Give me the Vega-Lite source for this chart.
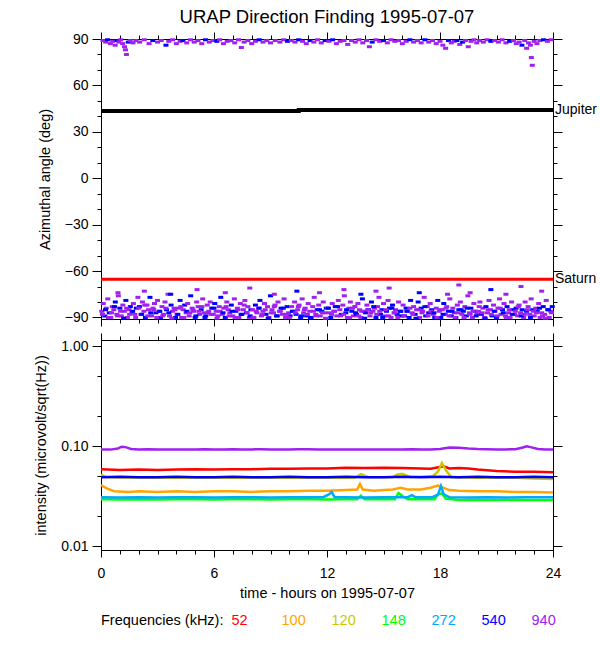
{
  "$schema": "https://vega.github.io/schema/vega-lite/v6.json",
  "padding": {"left": 33, "top": 7, "right": 0, "bottom": 0},
  "background": "white",
  "title": {"text": "URAP Direction Finding  1995-07-07", "anchor": "middle", "frame": "group", "font": "Liberation Sans", "fontSize": 18.5, "fontWeight": "normal", "color": "black", "offset": 5},
  "config": {
    "view": {"stroke": "black", "strokeWidth": 1},
    "axis": {"grid": false, "labelFlush": false, "domainColor": "black", "tickColor": "black", "labelColor": "black", "titleColor": "black",
      "labelFont": "Liberation Sans", "titleFont": "Liberation Sans", "labelFontSize": 14, "titleFontSize": 14.5, "titleFontWeight": "normal"}
  },
  "spacing": 5,
  "resolve": {"scale": {"color": "shared"}},
  "datasets": {
    "df": [
      {"t":0.10,"a":89,"f":940},{"t":0.25,"a":88,"f":940},{"t":0.35,"a":89.5,"f":540},{"t":0.50,"a":87,"f":940},{"t":0.62,"a":88.5,"f":940},
      {"t":0.75,"a":86,"f":940},{"t":0.85,"a":89,"f":540},{"t":0.95,"a":88,"f":940},{"t":1.05,"a":89.5,"f":940},{"t":1.15,"a":87,"f":940},
      {"t":1.25,"a":85,"f":940},{"t":1.30,"a":83,"f":940},{"t":1.35,"a":80,"f":940},{"t":1.45,"a":88,"f":540},{"t":1.55,"a":89,"f":940},
      {"t":1.70,"a":87.5,"f":940},{"t":1.85,"a":89,"f":940},{"t":2.05,"a":88,"f":940},{"t":2.30,"a":89.5,"f":940},{"t":2.55,"a":87,"f":940},
      {"t":2.75,"a":89,"f":540},{"t":3.00,"a":88,"f":940},{"t":3.20,"a":89,"f":940},{"t":3.45,"a":86,"f":540},{"t":3.60,"a":88.5,"f":940},
      {"t":3.80,"a":89.5,"f":940},{"t":4.00,"a":87,"f":940},{"t":4.20,"a":88.5,"f":940},{"t":4.35,"a":89,"f":540},{"t":4.55,"a":87.5,"f":940},
      {"t":4.75,"a":89.5,"f":940},{"t":4.95,"a":88,"f":940},{"t":5.15,"a":89,"f":940},{"t":5.35,"a":87,"f":940},{"t":5.55,"a":89.5,"f":540},
      {"t":5.75,"a":88,"f":940},{"t":5.95,"a":89,"f":940},{"t":6.15,"a":88.5,"f":540},{"t":6.30,"a":89.5,"f":940},{"t":6.50,"a":87,"f":940},
      {"t":6.70,"a":88.5,"f":940},{"t":6.90,"a":89,"f":940},{"t":7.10,"a":87.5,"f":940},{"t":7.30,"a":89.5,"f":940},{"t":7.45,"a":84.5,"f":940},
      {"t":7.60,"a":88,"f":940},{"t":7.80,"a":89,"f":940},{"t":8.00,"a":87,"f":940},{"t":8.20,"a":88.5,"f":940},{"t":8.40,"a":89.5,"f":540},
      {"t":8.60,"a":88,"f":940},{"t":8.80,"a":89,"f":940},{"t":9.00,"a":87.5,"f":940},{"t":9.25,"a":89,"f":940},{"t":9.50,"a":88,"f":940},
      {"t":9.70,"a":89.5,"f":940},{"t":9.90,"a":88.5,"f":540},{"t":10.10,"a":89,"f":940},{"t":10.30,"a":88,"f":940},{"t":10.50,"a":89.5,"f":540},
      {"t":10.70,"a":88.5,"f":940},{"t":10.90,"a":87,"f":940},{"t":11.10,"a":89,"f":540},{"t":11.30,"a":88,"f":940},{"t":11.50,"a":89.5,"f":940},
      {"t":11.70,"a":87.5,"f":940},{"t":11.90,"a":89,"f":540},{"t":12.10,"a":88.5,"f":940},{"t":12.30,"a":89.5,"f":540},{"t":12.50,"a":87,"f":940},
      {"t":12.70,"a":88.5,"f":940},{"t":12.90,"a":89,"f":940},{"t":13.10,"a":86.5,"f":940},{"t":13.30,"a":89,"f":940},{"t":13.50,"a":88,"f":940},
      {"t":13.70,"a":89.5,"f":940},{"t":13.90,"a":87.5,"f":940},{"t":14.10,"a":89,"f":940},{"t":14.25,"a":85,"f":940},{"t":14.40,"a":88,"f":540},
      {"t":14.60,"a":89.5,"f":940},{"t":14.80,"a":88.5,"f":940},{"t":15.00,"a":89,"f":540},{"t":15.20,"a":87.5,"f":940},{"t":15.40,"a":89.5,"f":940},
      {"t":15.60,"a":88.5,"f":940},{"t":15.80,"a":89,"f":940},{"t":16.00,"a":87,"f":940},{"t":16.20,"a":88.5,"f":940},{"t":16.40,"a":89.5,"f":540},
      {"t":16.60,"a":88,"f":940},{"t":16.80,"a":89,"f":940},{"t":17.00,"a":87.5,"f":940},{"t":17.20,"a":89.5,"f":540},{"t":17.40,"a":88,"f":940},
      {"t":17.60,"a":89,"f":940},{"t":17.80,"a":87,"f":940},{"t":18.00,"a":88.5,"f":940},{"t":18.15,"a":86,"f":940},{"t":18.30,"a":84,"f":940},
      {"t":18.45,"a":89,"f":540},{"t":18.60,"a":87.5,"f":940},{"t":18.75,"a":88.5,"f":940},{"t":18.90,"a":89,"f":540},{"t":19.05,"a":86.5,"f":940},
      {"t":19.20,"a":88,"f":540},{"t":19.35,"a":89,"f":940},{"t":19.50,"a":85,"f":940},{"t":19.65,"a":88.5,"f":940},{"t":19.80,"a":89.5,"f":940},
      {"t":19.95,"a":87.5,"f":940},{"t":20.10,"a":89,"f":940},{"t":20.30,"a":88,"f":940},{"t":20.50,"a":89.5,"f":940},{"t":20.70,"a":88.5,"f":540},
      {"t":20.90,"a":89,"f":940},{"t":21.10,"a":88,"f":940},{"t":21.30,"a":89.5,"f":940},{"t":21.50,"a":87.5,"f":940},{"t":21.70,"a":88.5,"f":540},
      {"t":21.90,"a":89,"f":940},{"t":22.05,"a":87,"f":940},{"t":22.20,"a":88,"f":940},{"t":22.35,"a":86,"f":540},{"t":22.50,"a":89,"f":940},
      {"t":22.60,"a":84,"f":940},{"t":22.70,"a":87.5,"f":940},{"t":22.80,"a":86,"f":940},{"t":22.85,"a":78,"f":940},{"t":22.90,"a":73,"f":940},
      {"t":23.00,"a":88.5,"f":940},{"t":23.15,"a":87,"f":940},{"t":23.30,"a":89,"f":940},{"t":23.50,"a":89.5,"f":540},{"t":23.70,"a":88.5,"f":940},
      {"t":23.90,"a":89.5,"f":940},

      {"t":0.04,"a":-86,"f":940},{"t":0.12,"a":-81,"f":940},{"t":0.20,"a":-89,"f":540},{"t":0.28,"a":-84,"f":940},{"t":0.36,"a":-78,"f":940},
      {"t":0.44,"a":-87,"f":540},{"t":0.52,"a":-90,"f":940},{"t":0.60,"a":-83,"f":940},{"t":0.68,"a":-85,"f":940},{"t":0.76,"a":-80,"f":540},
      {"t":0.84,"a":-88,"f":940},{"t":0.92,"a":-76,"f":940},{"t":1.00,"a":-84,"f":540},{"t":1.08,"a":-89,"f":940},{"t":1.16,"a":-82,"f":940},
      {"t":1.24,"a":-86,"f":940},{"t":1.32,"a":-79,"f":540},{"t":1.40,"a":-90,"f":940},{"t":1.48,"a":-85,"f":940},{"t":1.56,"a":-83,"f":540},
      {"t":1.64,"a":-87,"f":940},{"t":1.72,"a":-81,"f":940},{"t":1.80,"a":-88,"f":940},{"t":1.88,"a":-84,"f":540},{"t":1.96,"a":-77,"f":940},

      {"t":2.04,"a":-83,"f":540},{"t":2.12,"a":-88,"f":940},{"t":2.20,"a":-80,"f":940},{"t":2.28,"a":-86,"f":940},{"t":2.36,"a":-90,"f":540},
      {"t":2.44,"a":-82,"f":940},{"t":2.52,"a":-85,"f":940},{"t":2.60,"a":-77,"f":540},{"t":2.68,"a":-89,"f":940},{"t":2.76,"a":-84,"f":940},
      {"t":2.84,"a":-81,"f":940},{"t":2.92,"a":-87,"f":540},{"t":3.00,"a":-79,"f":940},{"t":3.08,"a":-86,"f":940},{"t":3.16,"a":-90,"f":540},
      {"t":3.24,"a":-83,"f":940},{"t":3.32,"a":-88,"f":940},{"t":3.40,"a":-80,"f":940},{"t":3.48,"a":-85,"f":540},{"t":3.56,"a":-75,"f":940},
      {"t":3.64,"a":-89,"f":940},{"t":3.72,"a":-82,"f":540},{"t":3.80,"a":-86,"f":940},{"t":3.88,"a":-84,"f":940},{"t":3.96,"a":-90,"f":540},

      {"t":4.04,"a":-88,"f":940},{"t":4.12,"a":-84,"f":940},{"t":4.20,"a":-79,"f":540},{"t":4.28,"a":-90,"f":940},{"t":4.36,"a":-85,"f":940},
      {"t":4.44,"a":-82,"f":540},{"t":4.52,"a":-87,"f":940},{"t":4.60,"a":-81,"f":940},{"t":4.68,"a":-89,"f":940},{"t":4.76,"a":-76,"f":540},
      {"t":4.84,"a":-84,"f":940},{"t":4.92,"a":-86,"f":940},{"t":5.00,"a":-90,"f":540},{"t":5.08,"a":-80,"f":940},{"t":5.16,"a":-83,"f":940},
      {"t":5.24,"a":-88,"f":940},{"t":5.32,"a":-85,"f":540},{"t":5.40,"a":-78,"f":940},{"t":5.48,"a":-87,"f":940},{"t":5.56,"a":-89,"f":540},
      {"t":5.64,"a":-82,"f":940},{"t":5.72,"a":-86,"f":940},{"t":5.80,"a":-80,"f":940},{"t":5.88,"a":-84,"f":540},{"t":5.96,"a":-88,"f":940},

      {"t":6.04,"a":-81,"f":540},{"t":6.12,"a":-86,"f":940},{"t":6.20,"a":-89,"f":940},{"t":6.28,"a":-83,"f":940},{"t":6.36,"a":-77,"f":540},
      {"t":6.44,"a":-88,"f":940},{"t":6.52,"a":-84,"f":940},{"t":6.60,"a":-90,"f":540},{"t":6.68,"a":-80,"f":940},{"t":6.76,"a":-85,"f":940},
      {"t":6.84,"a":-87,"f":940},{"t":6.92,"a":-82,"f":540},{"t":7.00,"a":-89,"f":940},{"t":7.08,"a":-78,"f":940},{"t":7.16,"a":-86,"f":540},
      {"t":7.24,"a":-84,"f":940},{"t":7.32,"a":-90,"f":940},{"t":7.40,"a":-81,"f":940},{"t":7.48,"a":-88,"f":540},{"t":7.56,"a":-85,"f":940},
      {"t":7.64,"a":-79,"f":940},{"t":7.72,"a":-87,"f":540},{"t":7.80,"a":-83,"f":940},{"t":7.88,"a":-90,"f":940},{"t":7.96,"a":-85,"f":540},

      {"t":8.04,"a":-85,"f":940},{"t":8.12,"a":-90,"f":940},{"t":8.20,"a":-82,"f":540},{"t":8.28,"a":-87,"f":940},{"t":8.36,"a":-84,"f":940},
      {"t":8.44,"a":-79,"f":540},{"t":8.52,"a":-89,"f":940},{"t":8.60,"a":-86,"f":940},{"t":8.68,"a":-81,"f":940},{"t":8.76,"a":-88,"f":540},
      {"t":8.84,"a":-83,"f":940},{"t":8.92,"a":-90,"f":940},{"t":9.00,"a":-76,"f":540},{"t":9.08,"a":-85,"f":940},{"t":9.16,"a":-87,"f":940},
      {"t":9.24,"a":-82,"f":940},{"t":9.32,"a":-89,"f":540},{"t":9.40,"a":-80,"f":940},{"t":9.48,"a":-86,"f":940},{"t":9.56,"a":-84,"f":540},
      {"t":9.64,"a":-88,"f":940},{"t":9.72,"a":-78,"f":940},{"t":9.80,"a":-90,"f":940},{"t":9.88,"a":-83,"f":540},{"t":9.96,"a":-87,"f":940},

      {"t":10.04,"a":-89,"f":540},{"t":10.12,"a":-83,"f":940},{"t":10.20,"a":-86,"f":940},{"t":10.28,"a":-80,"f":940},{"t":10.36,"a":-88,"f":540},
      {"t":10.44,"a":-85,"f":940},{"t":10.52,"a":-82,"f":940},{"t":10.60,"a":-90,"f":540},{"t":10.68,"a":-78,"f":940},{"t":10.76,"a":-87,"f":940},
      {"t":10.84,"a":-84,"f":940},{"t":10.92,"a":-89,"f":540},{"t":11.00,"a":-81,"f":940},{"t":11.08,"a":-86,"f":940},{"t":11.16,"a":-90,"f":540},
      {"t":11.24,"a":-83,"f":940},{"t":11.32,"a":-77,"f":940},{"t":11.40,"a":-88,"f":940},{"t":11.48,"a":-85,"f":540},{"t":11.56,"a":-82,"f":940},
      {"t":11.64,"a":-89,"f":940},{"t":11.72,"a":-86,"f":540},{"t":11.80,"a":-80,"f":940},{"t":11.88,"a":-87,"f":940},{"t":11.96,"a":-84,"f":540},

      {"t":12.04,"a":-84,"f":940},{"t":12.12,"a":-87,"f":940},{"t":12.20,"a":-90,"f":540},{"t":12.28,"a":-81,"f":940},{"t":12.36,"a":-86,"f":940},
      {"t":12.44,"a":-83,"f":540},{"t":12.52,"a":-89,"f":940},{"t":12.60,"a":-79,"f":940},{"t":12.68,"a":-85,"f":940},{"t":12.76,"a":-88,"f":540},
      {"t":12.84,"a":-82,"f":940},{"t":12.92,"a":-76,"f":940},{"t":13.00,"a":-87,"f":540},{"t":13.08,"a":-90,"f":940},{"t":13.16,"a":-84,"f":940},
      {"t":13.24,"a":-80,"f":940},{"t":13.32,"a":-86,"f":540},{"t":13.40,"a":-89,"f":940},{"t":13.48,"a":-83,"f":940},{"t":13.56,"a":-88,"f":540},
      {"t":13.64,"a":-81,"f":940},{"t":13.72,"a":-85,"f":940},{"t":13.80,"a":-90,"f":940},{"t":13.88,"a":-78,"f":540},{"t":13.96,"a":-86,"f":940},

      {"t":14.04,"a":-87,"f":540},{"t":14.12,"a":-82,"f":940},{"t":14.20,"a":-85,"f":540},{"t":14.28,"a":-89,"f":940},{"t":14.36,"a":-80,"f":540},
      {"t":14.44,"a":-86,"f":940},{"t":14.52,"a":-84,"f":940},{"t":14.60,"a":-90,"f":540},{"t":14.68,"a":-83,"f":940},{"t":14.76,"a":-77,"f":940},
      {"t":14.84,"a":-88,"f":540},{"t":14.92,"a":-85,"f":540},{"t":15.00,"a":-81,"f":940},{"t":15.08,"a":-89,"f":940},{"t":15.16,"a":-86,"f":540},
      {"t":15.24,"a":-79,"f":940},{"t":15.32,"a":-84,"f":540},{"t":15.40,"a":-90,"f":940},{"t":15.48,"a":-82,"f":540},{"t":15.56,"a":-87,"f":940},
      {"t":15.64,"a":-85,"f":940},{"t":15.72,"a":-88,"f":540},{"t":15.80,"a":-80,"f":940},{"t":15.88,"a":-86,"f":540},{"t":15.96,"a":-89,"f":540},

      {"t":16.04,"a":-82,"f":940},{"t":16.12,"a":-89,"f":540},{"t":16.20,"a":-84,"f":540},{"t":16.28,"a":-86,"f":940},{"t":16.36,"a":-90,"f":540},
      {"t":16.44,"a":-79,"f":540},{"t":16.52,"a":-87,"f":940},{"t":16.60,"a":-83,"f":940},{"t":16.68,"a":-88,"f":540},{"t":16.76,"a":-85,"f":940},
      {"t":16.84,"a":-80,"f":540},{"t":16.92,"a":-90,"f":940},{"t":17.00,"a":-84,"f":540},{"t":17.08,"a":-86,"f":940},{"t":17.16,"a":-77,"f":940},
      {"t":17.24,"a":-89,"f":540},{"t":17.32,"a":-83,"f":940},{"t":17.40,"a":-87,"f":540},{"t":17.48,"a":-81,"f":940},{"t":17.56,"a":-85,"f":540},
      {"t":17.64,"a":-88,"f":940},{"t":17.72,"a":-90,"f":540},{"t":17.80,"a":-84,"f":940},{"t":17.88,"a":-79,"f":540},{"t":17.96,"a":-86,"f":940},

      {"t":18.04,"a":-90,"f":540},{"t":18.12,"a":-85,"f":940},{"t":18.20,"a":-81,"f":540},{"t":18.28,"a":-88,"f":940},{"t":18.36,"a":-83,"f":940},
      {"t":18.44,"a":-86,"f":540},{"t":18.52,"a":-78,"f":940},{"t":18.60,"a":-89,"f":540},{"t":18.68,"a":-84,"f":940},{"t":18.76,"a":-87,"f":940},
      {"t":18.84,"a":-90,"f":540},{"t":18.92,"a":-82,"f":940},{"t":19.00,"a":-85,"f":540},{"t":19.08,"a":-80,"f":940},{"t":19.16,"a":-88,"f":940},
      {"t":19.24,"a":-86,"f":540},{"t":19.32,"a":-83,"f":940},{"t":19.40,"a":-89,"f":540},{"t":19.48,"a":-76,"f":940},{"t":19.56,"a":-87,"f":940},
      {"t":19.64,"a":-84,"f":540},{"t":19.72,"a":-90,"f":940},{"t":19.80,"a":-81,"f":940},{"t":19.88,"a":-86,"f":540},{"t":19.96,"a":-88,"f":940},

      {"t":20.04,"a":-86,"f":940},{"t":20.12,"a":-80,"f":940},{"t":20.20,"a":-88,"f":540},{"t":20.28,"a":-84,"f":940},{"t":20.36,"a":-90,"f":940},
      {"t":20.44,"a":-83,"f":540},{"t":20.52,"a":-87,"f":940},{"t":20.60,"a":-79,"f":940},{"t":20.68,"a":-85,"f":940},{"t":20.76,"a":-89,"f":540},
      {"t":20.84,"a":-82,"f":940},{"t":20.92,"a":-86,"f":940},{"t":21.00,"a":-90,"f":540},{"t":21.08,"a":-84,"f":940},{"t":21.16,"a":-78,"f":940},
      {"t":21.24,"a":-88,"f":940},{"t":21.32,"a":-85,"f":540},{"t":21.40,"a":-81,"f":940},{"t":21.48,"a":-89,"f":940},{"t":21.56,"a":-83,"f":540},
      {"t":21.64,"a":-87,"f":940},{"t":21.72,"a":-90,"f":940},{"t":21.80,"a":-80,"f":940},{"t":21.88,"a":-85,"f":540},{"t":21.96,"a":-88,"f":940},

      {"t":22.04,"a":-84,"f":540},{"t":22.12,"a":-89,"f":940},{"t":22.20,"a":-82,"f":940},{"t":22.28,"a":-87,"f":940},{"t":22.36,"a":-85,"f":540},
      {"t":22.44,"a":-90,"f":940},{"t":22.52,"a":-80,"f":940},{"t":22.60,"a":-86,"f":540},{"t":22.68,"a":-83,"f":940},{"t":22.76,"a":-88,"f":940},
      {"t":22.84,"a":-78,"f":940},{"t":22.92,"a":-85,"f":540},{"t":23.00,"a":-89,"f":940},{"t":23.08,"a":-84,"f":940},{"t":23.16,"a":-86,"f":540},
      {"t":23.24,"a":-81,"f":940},{"t":23.32,"a":-90,"f":940},{"t":23.40,"a":-87,"f":940},{"t":23.48,"a":-83,"f":540},{"t":23.56,"a":-88,"f":940},
      {"t":23.64,"a":-79,"f":940},{"t":23.72,"a":-85,"f":540},{"t":23.80,"a":-90,"f":940},{"t":23.88,"a":-86,"f":940},{"t":23.96,"a":-83,"f":540},

      {"t":0.9,"a":-74,"f":940},{"t":2.3,"a":-73,"f":940},{"t":3.7,"a":-75,"f":540},{"t":5.1,"a":-72,"f":940},{"t":6.6,"a":-74,"f":940},
      {"t":7.9,"a":-71,"f":940},{"t":9.2,"a":-75,"f":940},{"t":10.4,"a":-73,"f":540},{"t":11.6,"a":-74,"f":940},{"t":12.9,"a":-72,"f":940},
      {"t":13.8,"a":-75,"f":540},{"t":14.6,"a":-73,"f":940},{"t":15.3,"a":-71,"f":940},{"t":16.9,"a":-74,"f":540},{"t":18.4,"a":-75,"f":940},
      {"t":19.0,"a":-69,"f":940},{"t":19.6,"a":-74,"f":940},{"t":20.7,"a":-72,"f":540},{"t":21.5,"a":-75,"f":940},{"t":22.3,"a":-70,"f":940},
      {"t":23.4,"a":-73,"f":940},

      {"t":0.08,"a":-88,"f":940},{"t":0.24,"a":-85,"f":540},{"t":0.40,"a":-90,"f":940},{"t":0.56,"a":-87,"f":940},{"t":0.72,"a":-83,"f":540},
      {"t":0.88,"a":-89,"f":940},{"t":1.04,"a":-86,"f":940},{"t":1.20,"a":-90.5,"f":540},{"t":1.36,"a":-84,"f":940},{"t":1.52,"a":-88,"f":940},
      {"t":1.68,"a":-86,"f":540},{"t":1.84,"a":-90,"f":940},{"t":2.00,"a":-84,"f":940},{"t":2.16,"a":-88,"f":540},{"t":2.32,"a":-82,"f":940},
      {"t":2.48,"a":-89,"f":940},{"t":2.64,"a":-87,"f":540},{"t":2.80,"a":-85,"f":940},{"t":2.96,"a":-90,"f":940},{"t":3.12,"a":-86,"f":540},
      {"t":3.28,"a":-89,"f":940},{"t":3.44,"a":-84,"f":940},{"t":3.60,"a":-87,"f":540},{"t":3.76,"a":-90.5,"f":940},{"t":3.92,"a":-85,"f":940},
      {"t":4.08,"a":-88,"f":540},{"t":4.24,"a":-83,"f":940},{"t":4.40,"a":-90,"f":940},{"t":4.56,"a":-86,"f":540},{"t":4.72,"a":-87,"f":940},
      {"t":4.88,"a":-85,"f":940},{"t":5.04,"a":-89,"f":540},{"t":5.20,"a":-86,"f":940},{"t":5.36,"a":-83,"f":940},{"t":5.52,"a":-90,"f":540},
      {"t":5.68,"a":-87,"f":940},{"t":5.84,"a":-88,"f":940},{"t":6.00,"a":-84,"f":540},{"t":6.16,"a":-90.5,"f":940},{"t":6.32,"a":-86,"f":940},
      {"t":6.48,"a":-87,"f":540},{"t":6.64,"a":-83,"f":940},{"t":6.80,"a":-89,"f":940},{"t":6.96,"a":-86,"f":540},{"t":7.12,"a":-90,"f":940},
      {"t":7.28,"a":-85,"f":940},{"t":7.44,"a":-88,"f":540},{"t":7.60,"a":-82,"f":940},{"t":7.76,"a":-87,"f":940},{"t":7.92,"a":-89,"f":540},
      {"t":8.08,"a":-90,"f":940},{"t":8.24,"a":-86,"f":940},{"t":8.40,"a":-84,"f":540},{"t":8.56,"a":-88,"f":940},{"t":8.72,"a":-85,"f":940},
      {"t":8.88,"a":-90.5,"f":540},{"t":9.04,"a":-87,"f":940},{"t":9.20,"a":-83,"f":940},{"t":9.36,"a":-89,"f":540},{"t":9.52,"a":-86,"f":940},
      {"t":9.68,"a":-84,"f":540},{"t":9.84,"a":-88,"f":940},{"t":10.00,"a":-90,"f":940},{"t":10.16,"a":-86,"f":540},{"t":10.32,"a":-87,"f":940},
      {"t":10.48,"a":-83,"f":940},{"t":10.64,"a":-89,"f":540},{"t":10.80,"a":-85,"f":940},{"t":10.96,"a":-88,"f":940},{"t":11.12,"a":-90,"f":540},
      {"t":11.28,"a":-86,"f":940},{"t":11.44,"a":-89,"f":940},{"t":11.60,"a":-85,"f":540},{"t":11.76,"a":-87,"f":940},{"t":11.92,"a":-90.5,"f":940},
      {"t":12.08,"a":-84,"f":540},{"t":12.24,"a":-88,"f":940},{"t":12.40,"a":-86,"f":940},{"t":12.56,"a":-83,"f":540},{"t":12.72,"a":-89,"f":940},
      {"t":12.88,"a":-88,"f":940},{"t":13.04,"a":-85,"f":540},{"t":13.20,"a":-90,"f":940},{"t":13.36,"a":-84,"f":940},{"t":13.52,"a":-87,"f":540},
      {"t":13.68,"a":-89,"f":940},{"t":13.84,"a":-86,"f":940},{"t":14.00,"a":-90.5,"f":540},{"t":14.16,"a":-85,"f":940},{"t":14.32,"a":-87,"f":940},
      {"t":14.48,"a":-83,"f":540},{"t":14.64,"a":-88,"f":940},{"t":14.80,"a":-86,"f":940},{"t":14.96,"a":-90,"f":540},{"t":15.12,"a":-85,"f":940},
      {"t":15.28,"a":-89,"f":940},{"t":15.44,"a":-84,"f":540},{"t":15.60,"a":-87,"f":940},{"t":15.76,"a":-90,"f":940},{"t":15.92,"a":-86,"f":540},
      {"t":16.08,"a":-89,"f":940},{"t":16.24,"a":-86,"f":540},{"t":16.40,"a":-84,"f":940},{"t":16.56,"a":-88,"f":940},{"t":16.72,"a":-90.5,"f":540},
      {"t":16.88,"a":-85,"f":940},{"t":17.04,"a":-87,"f":940},{"t":17.20,"a":-83,"f":540},{"t":17.36,"a":-89,"f":940},{"t":17.52,"a":-86,"f":940},
      {"t":17.68,"a":-87,"f":540},{"t":17.84,"a":-90,"f":940},{"t":18.00,"a":-85,"f":940},{"t":18.16,"a":-88,"f":540},{"t":18.32,"a":-84,"f":940},
      {"t":18.48,"a":-89,"f":940},{"t":18.64,"a":-86,"f":540},{"t":18.80,"a":-90,"f":940},{"t":18.96,"a":-87,"f":940},{"t":19.12,"a":-85,"f":540},
      {"t":19.28,"a":-90,"f":940},{"t":19.44,"a":-84,"f":540},{"t":19.60,"a":-88,"f":940},{"t":19.76,"a":-86,"f":940},{"t":19.92,"a":-89,"f":540},
      {"t":20.08,"a":-83,"f":940},{"t":20.24,"a":-87,"f":940},{"t":20.40,"a":-90.5,"f":540},{"t":20.56,"a":-85,"f":940},{"t":20.72,"a":-88,"f":940},
      {"t":20.88,"a":-86,"f":540},{"t":21.04,"a":-89,"f":940},{"t":21.20,"a":-84,"f":940},{"t":21.36,"a":-87,"f":540},{"t":21.52,"a":-90,"f":940},
      {"t":21.68,"a":-85,"f":940},{"t":21.84,"a":-88,"f":540},{"t":22.00,"a":-86,"f":940},{"t":22.16,"a":-83,"f":940},{"t":22.32,"a":-89,"f":540},
      {"t":22.48,"a":-88,"f":940},{"t":22.64,"a":-85,"f":940},{"t":22.80,"a":-90,"f":540},{"t":22.96,"a":-86,"f":940},{"t":23.12,"a":-87,"f":940},
      {"t":23.28,"a":-84,"f":540},{"t":23.44,"a":-89,"f":940},{"t":23.60,"a":-90.5,"f":940},{"t":23.76,"a":-85,"f":540},{"t":23.92,"a":-87,"f":940}
    ],
    "bodies": [
      {"body":"Jupiter","t":0,"a":43.5},{"body":"Jupiter","t":10.5,"a":43.5},{"body":"Jupiter","t":10.5,"a":44.1},{"body":"Jupiter","t":24,"a":44.1},
      {"body":"Saturn","t":0,"a":-65.3},{"body":"Saturn","t":24,"a":-65.3}
    ],
    "intens": [
      {"t":0,"v":0.093,"f":940},{"t":0.5,"v":0.0925,"f":940},{"t":0.9,"v":0.095,"f":940},{"t":1.1,"v":0.099,"f":940},{"t":1.3,"v":0.098,"f":940},
      {"t":1.6,"v":0.094,"f":940},{"t":2,"v":0.093,"f":940},{"t":2.5,"v":0.0935,"f":940},{"t":3,"v":0.0925,"f":940},{"t":3.5,"v":0.093,"f":940},
      {"t":4,"v":0.093,"f":940},{"t":4.5,"v":0.0925,"f":940},{"t":5,"v":0.0925,"f":940},{"t":5.5,"v":0.0935,"f":940},{"t":6,"v":0.093,"f":940},
      {"t":6.5,"v":0.0925,"f":940},{"t":7,"v":0.0935,"f":940},{"t":7.5,"v":0.093,"f":940},{"t":8,"v":0.093,"f":940},{"t":8.5,"v":0.0935,"f":940},
      {"t":9,"v":0.0925,"f":940},{"t":9.5,"v":0.093,"f":940},{"t":10,"v":0.093,"f":940},{"t":10.5,"v":0.0935,"f":940},{"t":11,"v":0.0935,"f":940},
      {"t":11.5,"v":0.093,"f":940},{"t":12,"v":0.093,"f":940},{"t":12.5,"v":0.0925,"f":940},{"t":13,"v":0.0925,"f":940},{"t":13.5,"v":0.093,"f":940},
      {"t":14,"v":0.093,"f":940},{"t":14.5,"v":0.0925,"f":940},{"t":15,"v":0.0925,"f":940},{"t":15.5,"v":0.093,"f":940},{"t":16,"v":0.093,"f":940},
      {"t":16.5,"v":0.0935,"f":940},{"t":17,"v":0.093,"f":940},{"t":17.5,"v":0.093,"f":940},{"t":18,"v":0.094,"f":940},{"t":18.5,"v":0.097,"f":940},
      {"t":19,"v":0.0965,"f":940},{"t":19.5,"v":0.095,"f":940},{"t":20,"v":0.094,"f":940},{"t":20.5,"v":0.0935,"f":940},{"t":21,"v":0.093,"f":940},
      {"t":21.5,"v":0.093,"f":940},{"t":22,"v":0.0935,"f":940},{"t":22.4,"v":0.097,"f":940},{"t":22.6,"v":0.1,"f":940},{"t":22.8,"v":0.098,"f":940},
      {"t":23.2,"v":0.094,"f":940},{"t":23.6,"v":0.093,"f":940},{"t":24,"v":0.093,"f":940},

      {"t":0,"v":0.059,"f":52},{"t":1,"v":0.058,"f":52},{"t":2,"v":0.0585,"f":52},{"t":3,"v":0.058,"f":52},{"t":4,"v":0.0585,"f":52},
      {"t":5,"v":0.059,"f":52},{"t":6,"v":0.0585,"f":52},{"t":7,"v":0.059,"f":52},{"t":8,"v":0.059,"f":52},{"t":9,"v":0.0595,"f":52},
      {"t":10,"v":0.0595,"f":52},{"t":11,"v":0.06,"f":52},{"t":12,"v":0.06,"f":52},{"t":13,"v":0.061,"f":52},{"t":14,"v":0.0605,"f":52},
      {"t":15,"v":0.061,"f":52},{"t":16,"v":0.0605,"f":52},{"t":17,"v":0.06,"f":52},{"t":17.5,"v":0.0595,"f":52},{"t":18,"v":0.062,"f":52},
      {"t":18.2,"v":0.063,"f":52},{"t":18.5,"v":0.06,"f":52},{"t":19,"v":0.0605,"f":52},{"t":19.5,"v":0.06,"f":52},{"t":20,"v":0.0585,"f":52},
      {"t":21,"v":0.0565,"f":52},{"t":22,"v":0.0555,"f":52},{"t":23,"v":0.0555,"f":52},{"t":24,"v":0.055,"f":52},

      {"t":0,"v":0.052,"f":120},{"t":0.3,"v":0.049,"f":120},{"t":2,"v":0.0485,"f":120},{"t":5,"v":0.0485,"f":120},{"t":8,"v":0.0485,"f":120},
      {"t":11,"v":0.0485,"f":120},{"t":13.5,"v":0.0485,"f":120},{"t":13.8,"v":0.0525,"f":120},{"t":14.2,"v":0.049,"f":120},{"t":15.5,"v":0.049,"f":120},
      {"t":15.7,"v":0.052,"f":120},{"t":16,"v":0.053,"f":120},{"t":16.4,"v":0.049,"f":120},{"t":17.6,"v":0.05,"f":120},{"t":17.9,"v":0.056,"f":120},
      {"t":18.1,"v":0.068,"f":120},{"t":18.3,"v":0.058,"f":120},{"t":18.6,"v":0.049,"f":120},{"t":20,"v":0.0485,"f":120},{"t":22,"v":0.0485,"f":120},
      {"t":23,"v":0.0475,"f":120},{"t":24,"v":0.047,"f":120},

      {"t":0,"v":0.049,"f":540},{"t":1,"v":0.0495,"f":540},{"t":2,"v":0.049,"f":540},{"t":3,"v":0.049,"f":540},{"t":4,"v":0.0495,"f":540},
      {"t":5,"v":0.049,"f":540},{"t":6,"v":0.049,"f":540},{"t":7,"v":0.0495,"f":540},{"t":8,"v":0.049,"f":540},{"t":9,"v":0.049,"f":540},
      {"t":10,"v":0.0495,"f":540},{"t":11,"v":0.049,"f":540},{"t":12,"v":0.049,"f":540},{"t":13,"v":0.0495,"f":540},{"t":14,"v":0.049,"f":540},
      {"t":15,"v":0.049,"f":540},{"t":16,"v":0.0495,"f":540},{"t":17,"v":0.049,"f":540},{"t":18,"v":0.0495,"f":540},{"t":19,"v":0.049,"f":540},
      {"t":20,"v":0.0495,"f":540},{"t":21,"v":0.049,"f":540},{"t":22,"v":0.049,"f":540},{"t":23,"v":0.0495,"f":540},{"t":24,"v":0.049,"f":540},

      {"t":0,"v":0.041,"f":100},{"t":0.3,"v":0.038,"f":100},{"t":0.7,"v":0.0355,"f":100},{"t":1.5,"v":0.035,"f":100},{"t":2,"v":0.0355,"f":100},
      {"t":3,"v":0.035,"f":100},{"t":4,"v":0.0355,"f":100},{"t":5,"v":0.035,"f":100},{"t":6,"v":0.0355,"f":100},{"t":7,"v":0.0355,"f":100},
      {"t":8,"v":0.035,"f":100},{"t":9,"v":0.0355,"f":100},{"t":10,"v":0.0355,"f":100},{"t":11,"v":0.036,"f":100},{"t":12,"v":0.036,"f":100},
      {"t":13,"v":0.0365,"f":100},{"t":13.6,"v":0.037,"f":100},{"t":13.75,"v":0.042,"f":100},{"t":13.9,"v":0.037,"f":100},{"t":14.5,"v":0.036,"f":100},
      {"t":15,"v":0.0365,"f":100},{"t":15.5,"v":0.037,"f":100},{"t":15.9,"v":0.0385,"f":100},{"t":16.3,"v":0.037,"f":100},{"t":17,"v":0.037,"f":100},
      {"t":17.5,"v":0.0385,"f":100},{"t":17.9,"v":0.0405,"f":100},{"t":18.1,"v":0.039,"f":100},{"t":18.5,"v":0.0365,"f":100},{"t":19,"v":0.036,"f":100},
      {"t":20,"v":0.0355,"f":100},{"t":21,"v":0.0355,"f":100},{"t":22,"v":0.035,"f":100},{"t":23,"v":0.035,"f":100},{"t":24,"v":0.0345,"f":100},

      {"t":0,"v":0.0295,"f":148},{"t":1,"v":0.0293,"f":148},{"t":2,"v":0.0295,"f":148},{"t":3,"v":0.0293,"f":148},{"t":4,"v":0.0295,"f":148},
      {"t":5,"v":0.0295,"f":148},{"t":6,"v":0.0293,"f":148},{"t":7,"v":0.0295,"f":148},{"t":8,"v":0.0295,"f":148},{"t":9,"v":0.0293,"f":148},
      {"t":10,"v":0.0295,"f":148},{"t":11,"v":0.0295,"f":148},{"t":12,"v":0.0293,"f":148},{"t":13,"v":0.0295,"f":148},{"t":13.6,"v":0.0295,"f":148},
      {"t":13.8,"v":0.032,"f":148},{"t":14,"v":0.0295,"f":148},{"t":15.6,"v":0.0295,"f":148},{"t":15.8,"v":0.034,"f":148},{"t":16.1,"v":0.031,"f":148},
      {"t":16.3,"v":0.0295,"f":148},{"t":17.7,"v":0.0295,"f":148},{"t":17.9,"v":0.033,"f":148},{"t":18.1,"v":0.034,"f":148},{"t":18.3,"v":0.03,"f":148},
      {"t":19,"v":0.029,"f":148},{"t":20,"v":0.0292,"f":148},{"t":21,"v":0.029,"f":148},{"t":22,"v":0.0292,"f":148},{"t":23,"v":0.029,"f":148},
      {"t":24,"v":0.029,"f":148},

      {"t":0,"v":0.031,"f":272},{"t":1,"v":0.0308,"f":272},{"t":2,"v":0.031,"f":272},{"t":3,"v":0.0308,"f":272},{"t":4,"v":0.031,"f":272},
      {"t":5,"v":0.031,"f":272},{"t":6,"v":0.0308,"f":272},{"t":7,"v":0.031,"f":272},{"t":8,"v":0.031,"f":272},{"t":9,"v":0.0308,"f":272},
      {"t":10,"v":0.031,"f":272},{"t":11,"v":0.031,"f":272},{"t":11.8,"v":0.031,"f":272},{"t":12.1,"v":0.033,"f":272},{"t":12.25,"v":0.035,"f":272},
      {"t":12.4,"v":0.031,"f":272},{"t":13,"v":0.031,"f":272},{"t":14,"v":0.0308,"f":272},{"t":15,"v":0.031,"f":272},{"t":16.3,"v":0.031,"f":272},
      {"t":16.5,"v":0.0325,"f":272},{"t":16.7,"v":0.031,"f":272},{"t":17.6,"v":0.031,"f":272},{"t":17.9,"v":0.033,"f":272},{"t":18.05,"v":0.04,"f":272},
      {"t":18.2,"v":0.033,"f":272},{"t":18.5,"v":0.031,"f":272},{"t":19.5,"v":0.0308,"f":272},{"t":20.5,"v":0.031,"f":272},{"t":21.5,"v":0.0308,"f":272},
      {"t":22.5,"v":0.031,"f":272},{"t":23.5,"v":0.031,"f":272},{"t":24,"v":0.031,"f":272}
    ]
  },
  "vconcat": [
    {
      "width": 452,
      "height": 280,
      "resolve": {"axis": {"x": "independent", "y": "independent"}},
      "layer": [
        {
          "data": {"name": "df"},
          "mark": {"type": "tick", "orient": "horizontal", "size": 5, "thickness": 3, "opacity": 1},
          "encoding": {
            "x": {"field": "t", "type": "quantitative", "scale": {"domain": [0, 24], "nice": false},
              "axis": {"orient": "bottom", "title": null, "labels": false, "values": [0,1,2,3,4,5,6,7,8,9,10,11,12,13,14,15,16,17,18,19,20,21,22,23,24],
                "tickSize": {"condition": {"test": "datum.value % 6 == 0", "value": 7}, "value": 4}}},
            "y": {"field": "a", "type": "quantitative", "scale": {"domain": [-91, 90], "nice": false, "zero": false},
              "axis": {"orient": "left", "title": "Azimuthal angle (deg)", "titlePadding": 12,
                "values": [-90,-80,-70,-60,-50,-40,-30,-20,-10,0,10,20,30,40,50,60,70,80,90],
                "labelExpr": "datum.value % 30 == 0 ? datum.label : ''", "labelPadding": 4,
                "tickSize": {"condition": {"test": "datum.value % 30 == 0", "value": 9}, "value": 4}}},
            "color": {"field": "f", "type": "nominal",
              "scale": {"domain": [52, 100, 120, 148, 272, 540, 940], "range": ["#ff0000", "#ffa500", "#c8c800", "#00ff00", "#00a8ff", "#0000ff", "#a020f0"]},
              "legend": {"orient": "none", "legendX": 0, "legendY": 575, "direction": "horizontal", "columns": 7,
                "title": "Frequencies (kHz):", "titleOrient": "left", "titleFont": "Liberation Sans", "titleFontSize": 14.5, "titleFontWeight": "normal", "titleColor": "black", "titlePadding": -7,
                "symbolSize": 0, "symbolOpacity": 0, "symbolStrokeWidth": 0, "labelOffset": 0,
                "labelFont": "Liberation Sans", "labelFontSize": 14.5, "gridAlign": "all", "columnPadding": 11,
                "labelColor": {"expr": "datum.value == 52 ? '#ff0000' : datum.value == 100 ? '#ffa500' : datum.value == 120 ? '#c8c800' : datum.value == 148 ? '#00ff00' : datum.value == 272 ? '#00a8ff' : datum.value == 540 ? '#0000ff' : '#a020f0'"}}}
          }
        },
        {
          "data": {"name": "bodies"},
          "transform": [{"filter": "datum.body == 'Jupiter'"}],
          "mark": {"type": "line", "color": "black", "strokeWidth": 4},
          "encoding": {
            "x": {"field": "t", "type": "quantitative", "scale": {"domain": [0, 24], "nice": false},
              "axis": {"orient": "top", "title": null, "labels": false, "values": [0,1,2,3,4,5,6,7,8,9,10,11,12,13,14,15,16,17,18,19,20,21,22,23,24],
                "tickSize": {"condition": {"test": "datum.value % 6 == 0", "value": 7}, "value": 4}}},
            "y": {"field": "a", "type": "quantitative", "scale": {"domain": [-91, 90], "nice": false, "zero": false},
              "axis": {"orient": "right", "title": null, "labels": false,
                "values": [-90,-80,-70,-60,-50,-40,-30,-20,-10,0,10,20,30,40,50,60,70,80,90],
                "tickSize": {"condition": {"test": "datum.value % 30 == 0", "value": 9}, "value": 4}}},
            "order": {"field": "a", "type": "quantitative"}
          }
        },
        {
          "data": {"name": "bodies"},
          "transform": [{"filter": "datum.body == 'Saturn'"}],
          "mark": {"type": "line", "color": "#ff0000", "strokeWidth": 3},
          "encoding": {
            "x": {"field": "t", "type": "quantitative", "scale": {"domain": [0, 24], "nice": false}, "axis": null},
            "y": {"field": "a", "type": "quantitative", "scale": {"domain": [-91, 90], "nice": false, "zero": false}, "axis": null}
          }
        },
        {
          "data": {"name": "bodies"},
          "transform": [{"filter": "datum.t == 24"}],
          "mark": {"type": "text", "align": "left", "baseline": "middle", "dx": 2, "font": "Liberation Sans", "fontSize": 14, "color": "black"},
          "encoding": {
            "x": {"field": "t", "type": "quantitative", "scale": {"domain": [0, 24], "nice": false}, "axis": null},
            "y": {"field": "a", "type": "quantitative", "scale": {"domain": [-91, 90], "nice": false, "zero": false}, "axis": null},
            "text": {"field": "body"}
          }
        }
      ]
    },
    {
      "width": 452,
      "height": 210,
      "data": {"name": "intens"},
      "resolve": {"axis": {"x": "independent", "y": "independent"}},
      "layer": [
        {
          "mark": {"type": "line", "strokeWidth": 2.5},
          "encoding": {
            "x": {"field": "t", "type": "quantitative", "scale": {"domain": [0, 24], "nice": false},
              "axis": {"orient": "bottom", "title": "time - hours on 1995-07-07", "titlePadding": 6,
                "values": [0,1,2,3,4,5,6,7,8,9,10,11,12,13,14,15,16,17,18,19,20,21,22,23,24],
                "labelExpr": "datum.value % 6 == 0 ? datum.label : ''", "labelPadding": 9,
                "tickSize": {"condition": {"test": "datum.value % 6 == 0", "value": 7}, "value": 4}}},
            "y": {"field": "v", "type": "quantitative", "scale": {"type": "log", "domain": [0.0092, 1.15], "nice": false},
              "axis": {"orient": "left", "title": "intensity (microvolt/sqrt(Hz))", "titlePadding": 12,
                "values": [0.01, 0.02, 0.05, 0.1, 0.2, 0.5, 1],
                "labelExpr": "(datum.value == 0.01 || datum.value == 0.1 || datum.value == 1) ? format(datum.value, '.2f') : ''", "labelPadding": 4,
                "tickSize": {"condition": {"test": "datum.value == 0.01 || datum.value == 0.1 || datum.value == 1", "value": 9}, "value": 4}}},
            "color": {"field": "f", "type": "nominal",
              "scale": {"domain": [52, 100, 120, 148, 272, 540, 940], "range": ["#ff0000", "#ffa500", "#c8c800", "#00ff00", "#00a8ff", "#0000ff", "#a020f0"]},
              "legend": {"orient": "none", "legendX": 0, "legendY": 575, "direction": "horizontal", "columns": 7,
                "title": "Frequencies (kHz):", "titleOrient": "left", "titleFont": "Liberation Sans", "titleFontSize": 14.5, "titleFontWeight": "normal", "titleColor": "black", "titlePadding": -7,
                "symbolSize": 0, "symbolOpacity": 0, "symbolStrokeWidth": 0, "labelOffset": 0,
                "labelFont": "Liberation Sans", "labelFontSize": 14.5, "gridAlign": "all", "columnPadding": 11,
                "labelColor": {"expr": "datum.value == 52 ? '#ff0000' : datum.value == 100 ? '#ffa500' : datum.value == 120 ? '#c8c800' : datum.value == 148 ? '#00ff00' : datum.value == 272 ? '#00a8ff' : datum.value == 540 ? '#0000ff' : '#a020f0'"}}}
          }
        },
        {
          "mark": {"type": "point", "opacity": 0},
          "encoding": {
            "x": {"field": "t", "type": "quantitative", "scale": {"domain": [0, 24], "nice": false},
              "axis": {"orient": "top", "title": null, "labels": false, "values": [0,1,2,3,4,5,6,7,8,9,10,11,12,13,14,15,16,17,18,19,20,21,22,23,24],
                "tickSize": {"condition": {"test": "datum.value % 6 == 0", "value": 7}, "value": 4}}},
            "y": {"field": "v", "type": "quantitative", "scale": {"type": "log", "domain": [0.0092, 1.15], "nice": false},
              "axis": {"orient": "right", "title": null, "labels": false, "values": [0.01, 0.02, 0.05, 0.1, 0.2, 0.5, 1],
                "tickSize": {"condition": {"test": "datum.value == 0.01 || datum.value == 0.1 || datum.value == 1", "value": 9}, "value": 4}}}
          }
        }
      ]
    }
  ]
}
